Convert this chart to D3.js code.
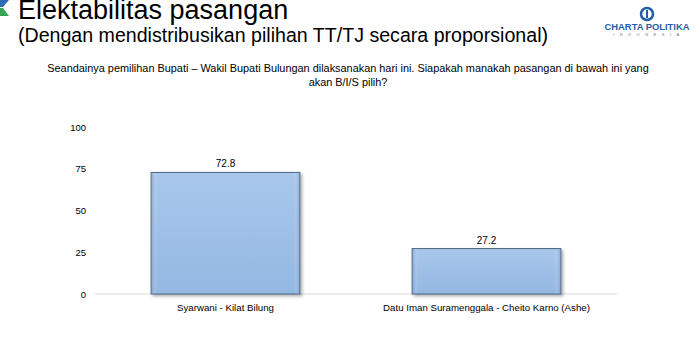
<!DOCTYPE html>
<html>
<head>
<meta charset="utf-8">
<script src="https://cdn.jsdelivr.net/npm/d3@7"></script>
<style>
  body { margin: 0; background: #fff; }
  svg { display: block; }
</style>
</head>
<body>
<div id="chart"></div>
<script>
// Data
const categories = ['Syarwani - Kilat Bilung', 'Datu Iman Suramenggala - Cheito Karno (Ashe)'];
const values = [72.8, 27.2];
const yTicks = [0, 25, 50, 75, 100];

const title = 'Elektabilitas pasangan';
const subtitle = '(Dengan mendistribusikan pilihan TT/TJ secara proporsional)';
const questionLines = [
  'Seandainya pemilihan Bupati \u2013 Wakil Bupati Bulungan dilaksanakan hari ini. Siapakah manakah pasangan di bawah ini yang',
  'akan B/I/S pilih?'
];

const W = 700, H = 350;
const font = "'Liberation Sans', Arial, sans-serif";

const svg = d3.select('#chart')
  .append('svg')
  .attr('width', W)
  .attr('height', H);

const defs = svg.append('defs');

// Bar gradient (light blue, bevelled look)
const grad = defs.append('linearGradient')
  .attr('id', 'bar-grad')
  .attr('x1', '0%').attr('y1', '0%')
  .attr('x2', '0%').attr('y2', '100%');
grad.append('stop').attr('offset', '0%').attr('stop-color', '#a9c7ec');
grad.append('stop').attr('offset', '100%').attr('stop-color', '#93b8e2');

const edge = defs.append('linearGradient')
  .attr('id', 'bar-edge')
  .attr('x1', '0%').attr('y1', '0%')
  .attr('x2', '100%').attr('y2', '0%');
edge.append('stop').attr('offset', '0%').attr('stop-color', '#6f8fb5').attr('stop-opacity', 0.5);
edge.append('stop').attr('offset', '4%').attr('stop-color', '#ffffff').attr('stop-opacity', 0);
edge.append('stop').attr('offset', '96%').attr('stop-color', '#ffffff').attr('stop-opacity', 0);
edge.append('stop').attr('offset', '100%').attr('stop-color', '#6f8fb5').attr('stop-opacity', 0.5);

const shadow = defs.append('filter')
  .attr('id', 'shadow')
  .attr('x', '-10%').attr('y', '-10%')
  .attr('width', '130%').attr('height', '130%');
shadow.append('feDropShadow')
  .attr('dx', 2).attr('dy', 2)
  .attr('stdDeviation', 1.5)
  .attr('flood-color', '#000')
  .attr('flood-opacity', 0.3);

// Corner logo (top left)
svg.append('polygon').attr('points', '0,0 9,0 3,7 0,7').attr('fill', '#2f6db5');
svg.append('polygon').attr('points', '0,8 3,8 9,16 0,16').attr('fill', '#3aa655');

// Titles
svg.append('text')
  .attr('x', 18).attr('y', 19)
  .style('font-family', font)
  .style('font-size', '27px')
  .style('fill', '#000')
  .text(title);

svg.append('text')
  .attr('x', 18).attr('y', 42)
  .style('font-family', font)
  .style('font-size', '19.6px')
  .style('fill', '#000')
  .text(subtitle);

// Logo top right
const logo = svg.append('g').attr('transform', 'translate(647,14)');
logo.append('circle').attr('r', 6).attr('fill', 'none').attr('stroke', '#1f5ea8').attr('stroke-width', 2.5);
logo.append('rect').attr('x', -1).attr('y', -4).attr('width', 2).attr('height', 8).attr('fill', '#1f5ea8');
svg.append('text')
  .attr('x', 647).attr('y', 30)
  .attr('text-anchor', 'middle')
  .style('font-family', font)
  .style('font-size', '9.4px')
  .style('font-weight', 'bold')
  .style('fill', '#1f5ea8')
  .text('CHARTA POLITIKA');
svg.append('text')
  .attr('x', 649).attr('y', 36)
  .attr('text-anchor', 'middle')
  .style('font-family', font)
  .style('font-size', '4px')
  .style('letter-spacing', '5.5px')
  .style('fill', '#777')
  .text('INDONESIA');

// Question
svg.selectAll('.question')
  .data(questionLines)
  .enter()
  .append('text')
  .attr('class', 'question')
  .attr('x', 348)
  .attr('y', (d, i) => 72 + i * 14)
  .attr('text-anchor', 'middle')
  .style('font-family', font)
  .style('font-size', '10.9px')
  .style('fill', '#000')
  .text(d => d);

// Scales
const x = d3.scaleBand()
  .domain(categories)
  .range([95, 617])
  .paddingInner(0.43)
  .paddingOuter(0.215);

const y = d3.scaleLinear()
  .domain([0, 100])
  .range([294, 127]);

// Y axis labels
const yAxis = svg.append('g')
  .attr('transform', 'translate(90,0)')
  .call(d3.axisLeft(y).tickValues(yTicks).tickSize(0).tickPadding(4));
yAxis.select('.domain').remove();
yAxis.selectAll('text')
  .style('font-family', font)
  .style('font-size', '9.5px')
  .style('fill', '#000');

// Baseline
svg.append('line')
  .attr('x1', 95).attr('x2', 617)
  .attr('y1', y(0)).attr('y2', y(0))
  .attr('stroke', '#d9d9d9')
  .attr('stroke-width', 1);

// Bars
const bars = svg.selectAll('.bar')
  .data(categories)
  .enter()
  .append('g')
  .attr('class', 'bar');

bars.append('rect')
  .attr('x', d => x(d))
  .attr('y', (d, i) => y(values[i]))
  .attr('width', x.bandwidth())
  .attr('height', (d, i) => y(0) - y(values[i]))
  .attr('fill', 'url(#bar-grad)')
  .attr('stroke', '#4a6382')
  .attr('stroke-width', 1)
  .attr('filter', 'url(#shadow)');

bars.append('rect')
  .attr('x', d => x(d) + 0.5)
  .attr('y', (d, i) => y(values[i]) + 0.5)
  .attr('width', x.bandwidth() - 1)
  .attr('height', (d, i) => y(0) - y(values[i]) - 1)
  .attr('fill', 'url(#bar-edge)');

// Value labels
bars.append('text')
  .attr('x', d => x(d) + x.bandwidth() / 2)
  .attr('y', (d, i) => y(values[i]) - 5)
  .attr('text-anchor', 'middle')
  .style('font-family', font)
  .style('font-size', '10px')
  .style('fill', '#000')
  .text((d, i) => values[i].toFixed(1));

// Category labels
bars.append('text')
  .attr('x', d => x(d) + x.bandwidth() / 2)
  .attr('y', 311)
  .attr('text-anchor', 'middle')
  .style('font-family', font)
  .style('font-size', '9.7px')
  .style('fill', '#000')
  .text(d => d);
</script>
</body>
</html>
